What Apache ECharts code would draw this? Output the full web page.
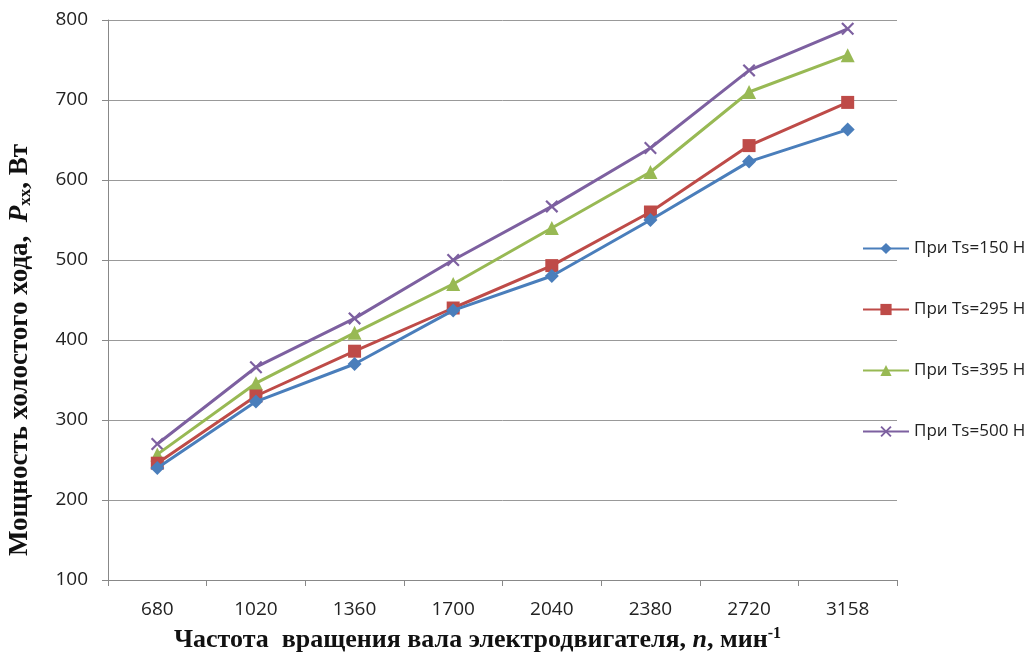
<!DOCTYPE html>
<html><head><meta charset="utf-8">
<script src="https://cdn.jsdelivr.net/npm/echarts@6/dist/echarts.min.js"></script>
<style>html,body{margin:0;padding:0;background:#fff}#c{width:1034px;height:664px}</style>
</head><body><div id="c"></div>
<script>
const categories = ['680','1020','1360','1700','2040','2380','2720','3158'];
const seriesNames = ['При Ts=150 Н','При Ts=295 Н','При Ts=395 Н','При Ts=500 Н'];
const ts150 = [240, 323, 370, 437, 480, 550, 623, 663];
const ts295 = [246, 330, 386, 440, 493, 560, 643, 697];
const ts395 = [257, 346, 409, 470, 540, 610, 710, 756];
const ts500 = [270, 366, 427, 500, 567, 640, 737, 789];
const yTicks = {min: 100, max: 800, interval: 100};

const colors = ['#4A7EBB','#BE4B48','#98B954','#7D60A0'];
const symbols = ['diamond','rect','triangle','path://M0,1.2L1.2,0L5,3.8L8.8,0L10,1.2L6.2,5L10,8.8L8.8,10L5,6.2L1.2,10L0,8.8L3.8,5Z'];
const sizes = [14, 13, 14, 13];
const dataSets = [ts150, ts295, ts395, ts500];

const chart = echarts.init(document.getElementById('c'));
chart.setOption({
  animation: false,
  backgroundColor: '#fff',
  grid: {left: 108, right: 137, top: 20, bottom: 84, containLabel: false, outerBoundsMode: 'none'},
  legend: {
    orient: 'vertical', left: 857, top: 235, itemGap: 44,
    itemWidth: 46, itemHeight: 14,
    textStyle: {fontFamily: 'Open Sans', fontSize: 17, color: '#222'},
    data: seriesNames
  },
  xAxis: {
    type: 'category', data: categories, boundaryGap: true,
    axisLine: {lineStyle: {color: '#888', width: 1}},
    axisTick: {show: true, length: 6, lineStyle: {color: '#888'}},
    axisLabel: {fontFamily: 'Open Sans', fontSize: 19, color: '#222', margin: 20},
    name: '{b|Частота  вращения вала электродвигателя, }{bi|n}{b|, мин}{sup|-1}',
    nameLocation: 'middle', nameGap: 46,
    nameTextStyle: {
      padding: [0, 50, 0, 0],
      rich: {
        b: {fontFamily: 'Liberation Serif', fontWeight: 'bold', fontSize: 26, color: '#111'},
        bi: {fontFamily: 'Liberation Serif', fontWeight: 'bold', fontStyle: 'italic', fontSize: 26, color: '#111'},
        sup: {fontFamily: 'Liberation Serif', fontWeight: 'bold', fontSize: 16, color: '#111', verticalAlign: 'top', padding: [0,0,12,0]}
      }
    }
  },
  yAxis: {
    type: 'value', min: yTicks.min, max: yTicks.max, interval: yTicks.interval,
    axisLine: {show: true, lineStyle: {color: '#888', width: 1}},
    axisTick: {show: true, length: 6, lineStyle: {color: '#888'}},
    splitLine: {lineStyle: {color: '#999', width: 1}},
    axisLabel: {fontFamily: 'Open Sans', fontSize: 19, color: '#222', margin: 20},
    name: '{b|Мощность холостого хода,  }{bi|P}{sub|xx}{b|, Вт}',
    nameLocation: 'middle', nameGap: 74,
    nameTextStyle: {
      padding: [0, 100, 0, 0],
      rich: {
        b: {fontFamily: 'Liberation Serif', fontWeight: 'bold', fontSize: 27, color: '#111'},
        bi: {fontFamily: 'Liberation Serif', fontWeight: 'bold', fontStyle: 'italic', fontSize: 27, color: '#111'},
        sub: {fontFamily: 'Liberation Serif', fontWeight: 'bold', fontSize: 17, color: '#111', verticalAlign: 'bottom', padding: [10,0,0,0]}
      }
    }
  },
  series: dataSets.map((d, i) => ({
    name: seriesNames[i], type: 'line', data: d,
    symbol: symbols[i], symbolSize: sizes[i], showSymbol: true,
    lineStyle: {color: colors[i], width: 3},
    itemStyle: {color: colors[i]},
    z: 2 + (3 - i)
  }))
});
</script></body></html>
